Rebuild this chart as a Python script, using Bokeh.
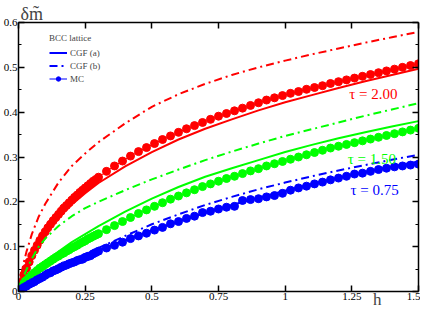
from bokeh.plotting import figure
from bokeh.models import (FixedTicker, LinearAxis, Label, Legend, LegendItem)
from bokeh.embed import file_html
from bokeh.resources import INLINE

# ---------------- data ----------------
h_mc = [0.00, 0.01, 0.02, 0.03, 0.04, 0.05, 0.06, 0.07, 0.08, 0.09, 0.10,
        0.11, 0.12, 0.13, 0.14, 0.15, 0.16, 0.17, 0.18, 0.19, 0.20,
        0.21, 0.22, 0.23, 0.24, 0.25, 0.26, 0.27, 0.28, 0.29, 0.30,
        0.33, 0.36, 0.39, 0.42, 0.45, 0.48, 0.51, 0.54, 0.57, 0.60,
        0.63, 0.66, 0.69, 0.72, 0.75, 0.78, 0.81, 0.84, 0.87, 0.90,
        0.93, 0.96, 0.99, 1.02, 1.05, 1.08, 1.11, 1.14, 1.17, 1.20,
        1.23, 1.26, 1.29, 1.32, 1.35, 1.38, 1.41, 1.44, 1.47, 1.50]

mc_tau200 = [0.000, 0.020, 0.037, 0.052, 0.066, 0.080, 0.092, 0.103, 0.114, 0.124, 0.133,
             0.142, 0.150, 0.158, 0.165, 0.172, 0.179, 0.186, 0.192, 0.198, 0.204,
             0.210, 0.215, 0.221, 0.226, 0.231, 0.236, 0.241, 0.246, 0.250, 0.255,
             0.268, 0.280, 0.291, 0.302, 0.312, 0.321, 0.330, 0.339, 0.347, 0.355,
             0.363, 0.370, 0.377, 0.384, 0.391, 0.397, 0.403, 0.409, 0.415, 0.421,
             0.427, 0.432, 0.437, 0.442, 0.446, 0.451, 0.455, 0.459, 0.464, 0.468,
             0.472, 0.476, 0.480, 0.484, 0.488, 0.492, 0.496, 0.500, 0.504, 0.508]

mc_tau150 = [0.000, 0.010, 0.018, 0.025, 0.031, 0.037, 0.042, 0.047, 0.052, 0.056, 0.060,
             0.064, 0.068, 0.072, 0.076, 0.079, 0.083, 0.086, 0.090, 0.093, 0.097,
             0.100, 0.103, 0.107, 0.110, 0.113, 0.117, 0.120, 0.123, 0.126, 0.129,
             0.138, 0.147, 0.156, 0.165, 0.174, 0.182, 0.190, 0.198, 0.206, 0.213,
             0.220, 0.227, 0.234, 0.240, 0.246, 0.252, 0.257, 0.263, 0.269, 0.274,
             0.280, 0.285, 0.290, 0.295, 0.300, 0.305, 0.310, 0.315, 0.320, 0.324,
             0.328, 0.332, 0.336, 0.340, 0.344, 0.348, 0.352, 0.356, 0.360, 0.364]

mc_tau075 = [0.000, 0.005, 0.009, 0.012, 0.016, 0.019, 0.022, 0.026, 0.029, 0.032, 0.036,
             0.040, 0.042, 0.046, 0.048, 0.051, 0.054, 0.057, 0.059, 0.062, 0.064,
             0.066, 0.069, 0.071, 0.072, 0.076, 0.078, 0.080, 0.084, 0.087, 0.090,
             0.097, 0.103, 0.110, 0.118, 0.124, 0.130, 0.137, 0.143, 0.151, 0.156,
             0.163, 0.168, 0.176, 0.179, 0.184, 0.188, 0.190, 0.203, 0.205, 0.207,
             0.211, 0.214, 0.219, 0.226, 0.231, 0.235, 0.240, 0.244, 0.249, 0.253,
             0.257, 0.262, 0.264, 0.268, 0.272, 0.275, 0.278, 0.280, 0.282, 0.284]

h_cgf = [0.0, 0.005, 0.01, 0.02, 0.03, 0.05, 0.075, 0.1, 0.15, 0.2, 0.25, 0.3,
         0.4, 0.5, 0.6, 0.7, 0.8, 0.9, 1.0, 1.1, 1.2, 1.3, 1.4, 1.5]

cgf_a_tau200 = [0.000, 0.010, 0.019, 0.036, 0.050, 0.076, 0.103, 0.128, 0.165, 0.194, 0.219, 0.242,
                0.279, 0.311, 0.339, 0.363, 0.384, 0.404, 0.422, 0.438, 0.454, 0.469, 0.483, 0.497]
cgf_b_tau200 = [0.000, 0.021, 0.038, 0.065, 0.089, 0.128, 0.166, 0.195, 0.243, 0.280, 0.308, 0.333,
                0.375, 0.412, 0.440, 0.463, 0.483, 0.500, 0.515, 0.529, 0.542, 0.555, 0.567, 0.579]
cgf_a_tau150 = [0.000, 0.004, 0.008, 0.016, 0.023, 0.037, 0.053, 0.068, 0.089, 0.110, 0.128, 0.146,
                0.178, 0.207, 0.233, 0.256, 0.275, 0.293, 0.311, 0.327, 0.342, 0.355, 0.368, 0.380]
cgf_b_tau150 = [0.000, 0.011, 0.020, 0.035, 0.049, 0.073, 0.099, 0.118, 0.146, 0.168, 0.186, 0.200,
                0.226, 0.250, 0.272, 0.293, 0.312, 0.330, 0.347, 0.362, 0.377, 0.392, 0.406, 0.420]
cgf_a_tau075 = [0.000, 0.003, 0.006, 0.011, 0.015, 0.023, 0.032, 0.040, 0.054, 0.067, 0.080, 0.092,
                0.115, 0.136, 0.156, 0.175, 0.193, 0.209, 0.225, 0.240, 0.254, 0.267, 0.279, 0.290]
cgf_b_tau075 = [0.000, 0.003, 0.005, 0.009, 0.013, 0.021, 0.031, 0.040, 0.056, 0.070, 0.084, 0.097,
                0.124, 0.150, 0.172, 0.193, 0.211, 0.228, 0.243, 0.257, 0.270, 0.282, 0.294, 0.305]

x_ticks = [0, 0.25, 0.5, 0.75, 1.0, 1.25, 1.5]
x_tick_labels = ["0", "0.25", "0.5", "0.75", "1", "1.25", "1.5"]
y_ticks = [0, 0.1, 0.2, 0.3, 0.4, 0.5, 0.6]
y_tick_labels = ["0", "0.1", "0.2", "0.3", "0.4", "0.5", "0.6"]
y_minor = [0.05, 0.15, 0.25, 0.35, 0.45, 0.55]

tau_labels = ["\u03c4 = 2.00", "\u03c4 = 1.50", "\u03c4 = 0.75"]
colors = ["#ff0000", "#00ff00", "#0000ff"]
x_title = "h"
y_title = "\u03b4m\u0303"

SERIF = "Liberation Serif"
DASHDOT = "8 4 2 4"

p = figure(width=420, height=311, x_range=(0, 1.5), y_range=(0, 0.6),
           output_backend="svg", toolbar_location=None,
           min_border_left=16, min_border_right=2, min_border_top=2, min_border_bottom=2)
p.xgrid.visible = False
p.ygrid.visible = False
p.outline_line_color = None
p.background_fill_color = "white"

def style_axis(ax, ticks, minor, labels, show_labels):
    ax.ticker = FixedTicker(ticks=ticks, minor_ticks=minor)
    ax.major_label_overrides = {t: (l if show_labels else "") for t, l in zip(ticks, labels)}
    ax.axis_line_width = 1.5
    ax.axis_line_color = "black"
    ax.major_tick_line_width = 1.5
    ax.minor_tick_line_width = 1.2
    ax.major_tick_in = 6
    ax.major_tick_out = 0
    ax.minor_tick_in = 3
    ax.minor_tick_out = 0
    ax.major_label_text_font = SERIF
    ax.major_label_text_font_size = "11px"
    ax.major_label_text_color = "black" if show_labels else None
    ax.major_label_standoff = 1

def title_axis(pos, text, size, standoff):
    # an axis without line or ticks that only carries one text at a chosen position
    ax = LinearAxis(ticker=FixedTicker(ticks=[pos], minor_ticks=[]),
                    major_label_overrides={pos: text})
    ax.axis_line_color = None
    ax.major_tick_line_color = None
    ax.minor_tick_line_color = None
    ax.major_tick_in = 0
    ax.major_tick_out = 0
    ax.major_label_text_font = SERIF
    ax.major_label_text_font_size = size
    ax.major_label_standoff = standoff
    return ax

style_axis(p.xaxis[0], x_ticks, [], x_tick_labels, True)
style_axis(p.yaxis[0], y_ticks, y_minor, y_tick_labels, True)
top = LinearAxis()
style_axis(top, x_ticks, [], x_tick_labels, False)
p.add_layout(top, "above")
right = LinearAxis()
style_axis(right, y_ticks, y_minor, y_tick_labels, False)
p.add_layout(right, "right")

p.add_layout(title_axis(1.345, x_title, "17px", -13), "below")
p.add_layout(title_axis(0.05, y_title, "18px", -1), "above")

series = [
    (mc_tau200, cgf_a_tau200, cgf_b_tau200),
    (mc_tau150, cgf_a_tau150, cgf_b_tau150),
    (mc_tau075, cgf_a_tau075, cgf_b_tau075),
]
rend = {}
for (mc, ca, cb), col in zip(series, colors):
    rb = p.line(h_cgf, cb, line_color=col, line_width=2, line_dash=DASHDOT)
    ra = p.line(h_cgf, ca, line_color=col, line_width=2)
    rl = p.line(h_mc, mc, line_color=col, line_width=1)
    rp = p.scatter(h_mc, mc, marker="circle", size=8, fill_color=col, line_color=col)
    rend[col] = (ra, rb, rl, rp)

ra, rb, rl, rp = rend[colors[2]]
legend = Legend(items=[LegendItem(label="CGF (a)", renderers=[ra]),
                       LegendItem(label="CGF (b)", renderers=[rb]),
                       LegendItem(label="MC", renderers=[rl, rp])],
                title="BCC lattice", location=(31, 207))
legend.title_text_font = SERIF
legend.title_text_font_size = "9px"
legend.title_text_font_style = "normal"
legend.title_standoff = 4
legend.label_text_font = SERIF
legend.label_text_font_size = "9px"
legend.glyph_width = 18
legend.glyph_height = 11
legend.label_height = 11
legend.label_standoff = 3
legend.spacing = 2
legend.padding = 2
legend.border_line_color = None
legend.background_fill_alpha = 0
p.add_layout(legend)

label_pos = [(1.24, 0.440), (1.235, 0.296), (1.245, 0.227)]
for txt, col, (lx, ly) in zip(tau_labels, colors, label_pos):
    p.add_layout(Label(x=lx, y=ly, text=txt, text_color=col, text_font=SERIF,
                       text_font_size="15px", text_baseline="middle", text_align="left"))

open("out.html", "w").write(file_html(p, INLINE))
